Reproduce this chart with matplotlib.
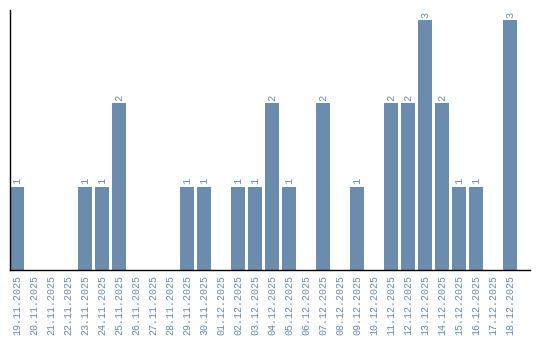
import matplotlib
matplotlib.use("Agg")
import matplotlib.pyplot as plt

dates = ["19.11.2025", "20.11.2025", "21.11.2025", "22.11.2025", "23.11.2025",
         "24.11.2025", "25.11.2025", "26.11.2025", "27.11.2025", "28.11.2025",
         "29.11.2025", "30.11.2025", "01.12.2025", "02.12.2025", "03.12.2025",
         "04.12.2025", "05.12.2025", "06.12.2025", "07.12.2025", "08.12.2025",
         "09.12.2025", "10.12.2025", "11.12.2025", "12.12.2025", "13.12.2025",
         "14.12.2025", "15.12.2025", "16.12.2025", "17.12.2025", "18.12.2025"]
counts = [1, 0, 0, 0, 1, 1, 2, 0, 0, 0,
          1, 1, 0, 1, 1, 2, 1, 0, 2, 0,
          1, 0, 2, 2, 3, 2, 1, 1, 0, 3]

bar_color = "#6b8cac"
text_color = "#6b8cac"
mono = ["Liberation Mono", "DejaVu Sans Mono"]

fig = plt.figure(figsize=(5.4, 3.4), dpi=100)
ax = fig.add_axes([10/540, 70/340, 520/540, 260/340])

x = list(range(len(dates)))
ax.bar(x, counts, width=0.82, color=bar_color)
for xi, c in zip(x, counts):
    if c > 0:
        ax.text(xi, c + 0.03, str(c), rotation=90, ha="center", va="bottom",
                fontsize=7.5, family=mono, color=text_color)

ax.set_xlim(-0.41, 30.18)
ax.set_ylim(0, 3.12)
ax.set_xticks(x)
ax.set_xticklabels(dates, rotation=90, fontsize=7.2, family=mono,
                   color=text_color)
ax.tick_params(axis="x", length=0, pad=3.5)
ax.set_yticks([])
for s in ["top", "right"]:
    ax.spines[s].set_visible(False)
ax.spines["left"].set_color("black")
ax.spines["bottom"].set_color("black")
ax.spines["left"].set_linewidth(1)
ax.spines["bottom"].set_linewidth(1)

fig.savefig("out.png", dpi=100)
